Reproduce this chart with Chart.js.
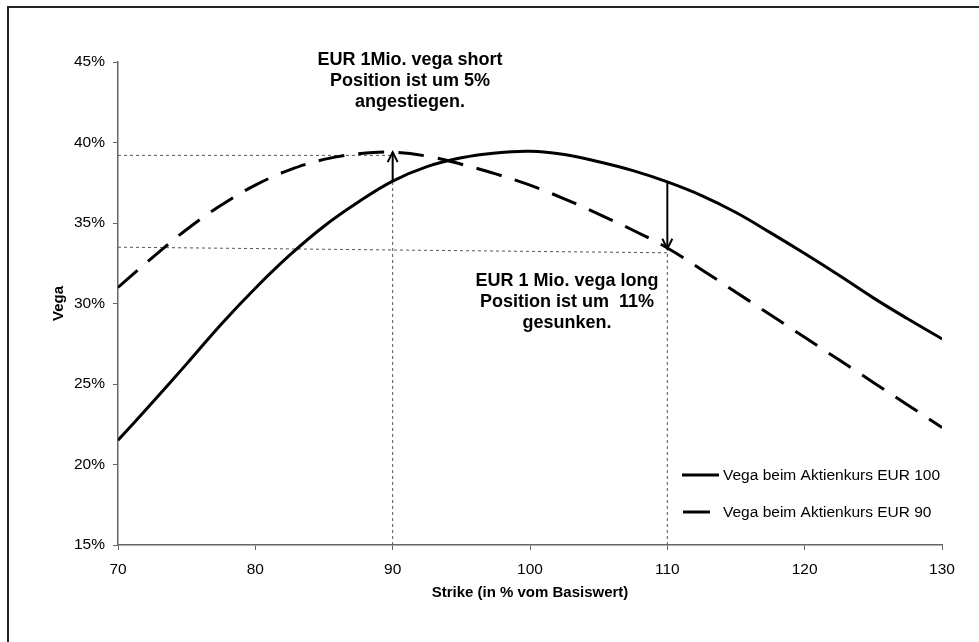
<!DOCTYPE html>
<html>
<head>
<meta charset="utf-8">
<script src="https://cdn.jsdelivr.net/npm/chart.js@4"></script>
<style>
  html, body { margin: 0; padding: 0; background: #fff; }
  #wrap { width: 979px; height: 642px; }
</style>
</head>
<body>
<div id="wrap"><canvas id="c" width="979" height="642"></canvas></div>
<script>
// ---- data ----
const strikes = [70, 72.5, 75, 77.5, 80, 82.5, 85, 87.5, 90, 92.5, 95, 97.5, 100, 102.5, 105, 107.5, 110, 112.5, 115, 117.5, 120, 122.5, 125, 127.5, 130];
const vega100 = [21.5, 23.85, 26.25, 28.7, 30.95, 33.0, 34.8, 36.3, 37.6, 38.5, 39.05, 39.35, 39.45, 39.25, 38.8, 38.25, 37.55, 36.7, 35.65, 34.4, 33.1, 31.75, 30.35, 29.05, 27.8];
const vega90  = [31.0, 32.85, 34.6, 36.1, 37.35, 38.3, 38.95, 39.3, 39.4, 39.15, 38.65, 38.05, 37.35, 36.5, 35.55, 34.55, 33.45, 32.1, 30.7, 29.3, 27.9, 26.5, 25.1, 23.7, 22.3];
const seriesLabels = ['Vega beim Aktienkurs EUR 100', 'Vega beim Aktienkurs EUR 90'];
const xTicks = [70, 80, 90, 100, 110, 120, 130];
const yTicks = [15, 20, 25, 30, 35, 40, 45];
// reference (dotted) lines: [x, y] pairs
const refShortH = [[70, 39.2], [90, 39.2]];
const refShortV = [[90, 15], [90, 39.3]];
const refLongH  = [[70, 33.5], [110, 33.15]];
const refLongV  = [[110, 15], [110, 33.2]];
// arrows: strike, from, to
const arrowShort = [90, 37.6, 39.4];
const arrowLong  = [110, 37.55, 33.4];
const noteShort = ['EUR 1Mio. vega short', 'Position ist um 5%', 'angestiegen.'];
const noteLong  = ['EUR 1 Mio. vega long', 'Position ist um  11%', 'gesunken.'];
const xTitle = 'Strike (in % vom Basiswert)';
const yTitle = 'Vega';

const FONT = "'Liberation Sans', Arial, sans-serif";
const pts = (xs, ys) => xs.map((x, i) => ({x: x, y: ys[i]}));
const pairPts = arr => arr.map(p => ({x: p[0], y: p[1]}));

const refStyle = {
  borderColor: '#555', borderWidth: 1, borderDash: [3, 3], pointRadius: 0,
  fill: false, tension: 0
};

const framePlugin = {
  id: 'frame',
  beforeDraw(chart) {
    const ctx = chart.ctx;
    ctx.save();
    ctx.fillStyle = '#fff';
    ctx.fillRect(0, 0, chart.width, chart.height);
    ctx.strokeStyle = '#222';
    ctx.lineWidth = 2;
    ctx.strokeRect(8, 7, chart.width + 20, chart.height + 20);
    ctx.restore();
  }
};

function drawArrow(ctx, xs, ys, a) {
  const x = xs.getPixelForValue(a[0]);
  const y1 = ys.getPixelForValue(a[1]);
  const y2 = ys.getPixelForValue(a[2]);
  const dir = y2 < y1 ? 1 : -1; // 1 = pointing up
  ctx.beginPath();
  ctx.moveTo(x, y1);
  ctx.lineTo(x, y2);
  ctx.stroke();
  ctx.beginPath();
  ctx.moveTo(x - 5, y2 + dir * 10);
  ctx.lineTo(x, y2);
  ctx.lineTo(x + 5, y2 + dir * 10);
  ctx.stroke();
}

const notesPlugin = {
  id: 'notes',
  afterDatasetsDraw(chart) {
    const ctx = chart.ctx;
    const xs = chart.scales.x, ys = chart.scales.y;
    ctx.save();
    ctx.strokeStyle = '#000';
    ctx.lineWidth = 2;
    drawArrow(ctx, xs, ys, arrowShort);
    drawArrow(ctx, xs, ys, arrowLong);

    ctx.fillStyle = '#000';
    ctx.font = 'bold 18px ' + FONT;
    ctx.textAlign = 'center';
    ctx.textBaseline = 'middle';
    noteShort.forEach((t, i) => ctx.fillText(t, 410, 60 + i * 21));
    noteLong.forEach((t, i) => ctx.fillText(t, 567, 281 + i * 21));

    // legend
    const ds = chart.data.datasets;
    const rows = [475, 512];
    ctx.font = '15.5px ' + FONT;
    ctx.textAlign = 'left';
    for (let i = 0; i < 2; i++) {
      ctx.lineWidth = 3;
      ctx.setLineDash([]);
      ctx.beginPath();
      if (i === 0) { ctx.moveTo(682, rows[i]); ctx.lineTo(719, rows[i]); }
      else { ctx.moveTo(683, rows[i]); ctx.lineTo(710, rows[i]); }
      ctx.stroke();
      ctx.fillText(ds[i].label, 723, rows[i] + 1);
    }
    ctx.restore();
  }
};

new Chart(document.getElementById('c'), {
  type: 'line',
  data: {
    datasets: [
      { label: seriesLabels[0], data: pts(strikes, vega100), borderColor: '#000', borderWidth: 3,
        pointRadius: 0, tension: 0.4, fill: false },
      { label: seriesLabels[1], data: pts(strikes, vega90), borderColor: '#000', borderWidth: 3,
        borderDash: [26, 14], pointRadius: 0, tension: 0.4, fill: false },
      Object.assign({ label: 'r1', data: pairPts(refShortH) }, refStyle),
      Object.assign({ label: 'r2', data: pairPts(refShortV) }, refStyle),
      Object.assign({ label: 'r3', data: pairPts(refLongH) }, refStyle),
      Object.assign({ label: 'r4', data: pairPts(refLongV) }, refStyle)
    ]
  },
  options: {
    responsive: false,
    animation: false,
    events: [],
    layout: { padding: { left: 0, right: 37, top: 62, bottom: 0 } },
    plugins: { legend: { display: false }, tooltip: { enabled: false }, title: { display: false } },
    scales: {
      x: {
        type: 'linear', min: 70, max: 130,
        afterFit(s) { s.height = 97; },
        afterBuildTicks(s) { s.ticks = xTicks.map(v => ({value: v})); },
        grid: { drawOnChartArea: false, drawTicks: true, tickLength: 5, color: '#666', lineWidth: 1 },
        border: { display: true, color: '#666', width: 1.5 },
        ticks: { color: '#000', font: { family: FONT, size: 15.5 }, padding: 10, maxRotation: 0 },
        title: { display: true, text: xTitle, color: '#000', font: { family: FONT, size: 15, weight: 'bold' },
                 padding: { top: 0, bottom: 40 } }
      },
      y: {
        type: 'linear', min: 15, max: 45,
        afterFit(s) { s.width = 118; },
        afterBuildTicks(s) { s.ticks = yTicks.map(v => ({value: v})); },
        grid: { drawOnChartArea: false, drawTicks: true, tickLength: 5, color: '#666', lineWidth: 1 },
        border: { display: true, color: '#666', width: 1.5 },
        ticks: { color: '#000', font: { family: FONT, size: 15.5 }, padding: 8, callback: v => v + '%' },
        title: { display: true, text: yTitle, color: '#000', font: { family: FONT, size: 15, weight: 'bold' },
                 padding: { top: 50, bottom: 0 } }
      }
    }
  },
  plugins: [framePlugin, notesPlugin]
});
</script>
</body>
</html>
